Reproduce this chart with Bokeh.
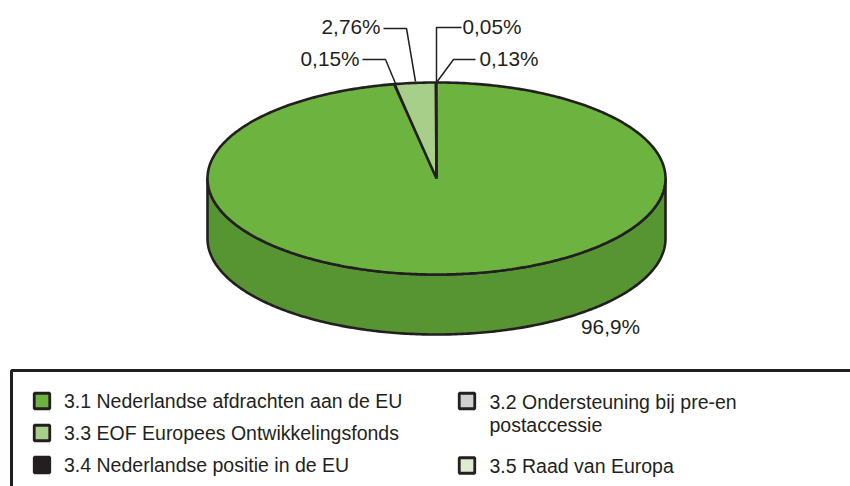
import numpy as np
from bokeh.plotting import figure
from bokeh.models import Range1d
from bokeh.core.properties import value
from bokeh.embed import file_html
from bokeh.resources import INLINE

# ---- data
categories = ["3.1 Nederlandse afdrachten aan de EU", "3.2 Ondersteuning bij pre-en\npostaccessie",
              "3.3 EOF Europees Ontwikkelingsfonds", "3.4 Nederlandse positie in de EU", "3.5 Raad van Europa"]
shares = [96.9, 0.13, 2.76, 0.15, 0.05]
share_labels = ["96,9%", "0,13%", "2,76%", "0,15%", "0,05%"]
colors = ["#6DB33F", "#CDCFD1", "#A8CF8A", "#231F20", "#DDEBCF"]
# clockwise drawing order from twelve o'clock
order = [1, 0, 3, 2, 4]

# ---- layout (page pixels)
CX, CY, RX, RY, DEPTH = 436.0, 178.0, 229.0, 96.0, 60.0
INK = "#231F20"
WALL = "#579432"
FONT = value("Liberation Sans")

p = figure(width=850, height=486, x_range=Range1d(0, 850), y_range=Range1d(486, 0),
           toolbar_location=None, output_backend="svg", min_border=0,
           x_axis_type=None, y_axis_type=None, outline_line_color=None)
p.grid.visible = False
p.background_fill_color = "white"
p.border_fill_color = "white"


def rim(a0, a1, n=240, dy=0.0):
    t = np.linspace(a0, a1, n)
    return CX + RX * np.sin(t), CY + dy - RY * np.cos(t)


# wall
xs_top, ys_top = rim(np.pi / 2, 3 * np.pi / 2)
xs_bot, ys_bot = rim(np.pi / 2, 3 * np.pi / 2, dy=DEPTH)
p.patch(np.r_[xs_top, xs_bot[::-1]], np.r_[ys_top, ys_bot[::-1]], fill_color=WALL,
        line_color=INK, line_width=2.6, line_join="round")

# top face slices, from the shares
total = sum(shares)
ang = 0.0
bounds = {}
for i in order:
    a1 = ang + 2 * np.pi * shares[i] / total
    n = max(3, int((a1 - ang) * 200))
    x, y = rim(ang, a1, n)
    p.patch(np.r_[CX, x], np.r_[CY, y], fill_color=colors[i], line_color=colors[i], line_width=0.5)
    bounds[i] = (ang, a1)
    ang = a1

# outline of top face and slice divider lines
x, y = rim(0, 2 * np.pi, 480)
p.line(x, y, line_color=INK, line_width=2.6)
for a in (bounds[1][0], bounds[0][1], bounds[2][1]):
    xe, ye = rim(a, a, 2)
    p.line([CX, xe[0]], [CY, ye[0]], line_color=INK, line_width=2.6)

# leaders
leaders = [
    ([383, 406, 415], [28, 28, 81]),
    ([362, 385, 395], [59, 59, 83]),
    ([461, 436, 436], [27, 27, 81]),
    ([475, 453, 436], [59, 59, 82]),
]
for lx, ly in leaders:
    p.line(lx, ly, line_color=INK, line_width=1.5)

# value labels
TXT = dict(text_font=FONT, text_color=INK, text_baseline="middle")
VS = "20.8px"
LS = "19.5px"
p.text([380], [26], text=[share_labels[2]], text_align="right", text_font_size=VS, **TXT)
p.text([359], [58], text=[share_labels[3]], text_align="right", text_font_size=VS, **TXT)
p.text([462], [26], text=[share_labels[4]], text_align="left", text_font_size=VS, **TXT)
p.text([479], [58], text=[share_labels[1]], text_align="left", text_font_size=VS, **TXT)
p.text([610], [326], text=[share_labels[0]], text_align="center", text_font_size=VS, **TXT)

# legend frame
p.line([850, 11, 11], [370, 370, 486], line_color=INK, line_width=3)

# legend
lg = [(0, 41.5, 400.5, 63.5, 400), (2, 41.5, 432.5, 63.5, 432), (3, 41.5, 464.5, 63.5, 464),
      (1, 466.5, 400.5, 489, None), (4, 466.5, 465, 489, 465)]
for i, mx, my, tx, ty in lg:
    p.rect([mx], [my], width=15.5, height=15.5, fill_color=colors[i], line_color=INK, line_width=2.8)
    if ty is None:
        a, b = categories[i].split("\n")
        p.text([tx], [401], text=[a], text_font_size=LS, **TXT)
        p.text([tx], [424], text=[b], text_font_size=LS, **TXT)
    else:
        p.text([tx], [ty], text=[categories[i]], text_font_size=LS, **TXT)

open("out.html", "w").write(file_html(p, INLINE))
